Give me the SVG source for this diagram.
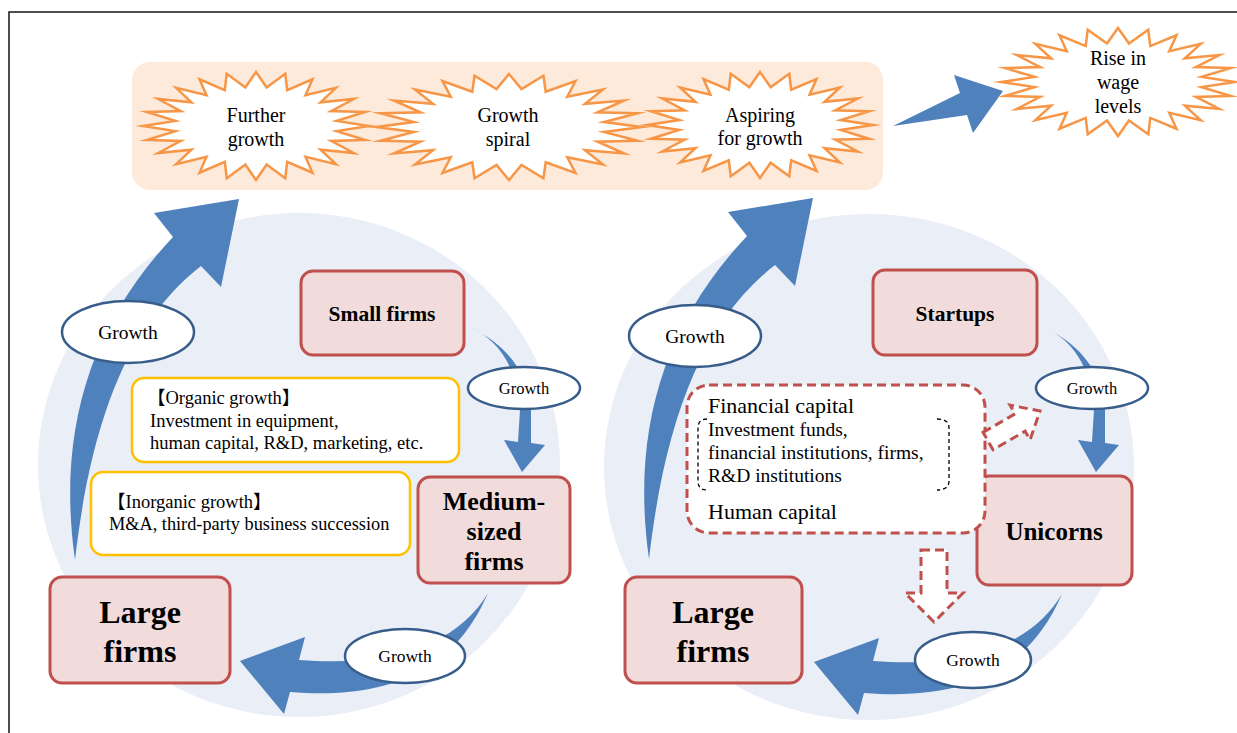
<svg xmlns="http://www.w3.org/2000/svg" xmlns:xlink="http://www.w3.org/1999/xlink" width="1237" height="733" viewBox="0 0 1237 733">
<style>
.serif{font-family:"Liberation Serif","Noto Sans CJK JP",serif;fill:#000}
.burst{fill:#fff;stroke:#f79646;stroke-width:2.5;vector-effect:non-scaling-stroke;stroke-miterlimit:12}
.firm{fill:#f2dcdb;stroke:#c0504d;stroke-width:3}
.lbl{fill:#fff;stroke:#385d8a;stroke-width:2.5}
.yel{fill:#fff;stroke:#ffc000;stroke-width:2.5}
.blue{fill:#4f81bd}
.dash{fill:#fff;stroke:#c0504d;stroke-width:3;stroke-dasharray:9 5}
.bold{font-weight:bold}
.mid{text-anchor:middle}
</style>
<defs>
<polygon id="star24" class="burst" points="0,-1 0.094,-0.714 0.259,-0.966 0.276,-0.665 0.5,-0.866 0.438,-0.571 0.707,-0.707 0.571,-0.438 0.866,-0.5 0.665,-0.276 0.966,-0.259 0.714,-0.094 1,0 0.714,0.094 0.966,0.259 0.665,0.276 0.866,0.5 0.571,0.438 0.707,0.707 0.438,0.571 0.5,0.866 0.276,0.665 0.259,0.966 0.094,0.714 0,1 -0.094,0.714 -0.259,0.966 -0.276,0.665 -0.5,0.866 -0.438,0.571 -0.707,0.707 -0.571,0.438 -0.866,0.5 -0.665,0.276 -0.966,0.259 -0.714,0.094 -1,0 -0.714,-0.094 -0.966,-0.259 -0.665,-0.276 -0.866,-0.5 -0.571,-0.438 -0.707,-0.707 -0.438,-0.571 -0.5,-0.866 -0.276,-0.665 -0.259,-0.966 -0.094,-0.714"/>
<path id="bigArc" d="M75,560 C58,440 85,330 173,237 L154,213 L239,199 L221,287 L201,266 C125,325 90,430 75,560 Z"/>
<path id="smallArc" d="M472,328 C497,340 517,365 520,410 L518,442 L504,440 L522,472 L545,445 L531,443 L531,410 C528,370 505,345 472,328 Z"/>
<path id="bottomArc" d="M488,593 C460,640 400,668 299,660 L305,637 L240,661 L284,714 L290,692 C390,700 455,670 488,593 Z"/>
</defs>
<rect width="1237" height="733" fill="#fff"/>
<rect x="9" y="12" width="1240" height="740" fill="none" stroke="#222" stroke-width="1.6"/>

<g id="backgrounds">
<ellipse cx="299" cy="465" rx="261" ry="252" fill="#e9eef7"/>
<ellipse cx="869" cy="467" rx="265" ry="253" fill="#e9eef7"/>
<rect x="132" y="62" width="751" height="128" rx="18" fill="#fdeadb"/>
</g>

<g id="connectors">
<polygon class="blue" points="893,126 960,93 954,75 1003,91 973,133 967,115"/>
<use xlink:href="#bigArc" class="blue"/>
<use xlink:href="#bigArc" class="blue" transform="translate(574,-1)"/>
<use xlink:href="#smallArc" class="blue"/>
<use xlink:href="#smallArc" class="blue" transform="translate(574,0)"/>
<use xlink:href="#bottomArc" class="blue"/>
<use xlink:href="#bottomArc" class="blue" transform="translate(574,1)"/>
</g>

<g id="further-growth">
<use xlink:href="#star24" transform="translate(256,126) scale(113,54)"/>
<text class="serif mid" x="256" y="122" font-size="20">Further</text>
<text class="serif mid" x="256" y="146" font-size="20">growth</text>
</g>
<g id="growth-spiral">
<use xlink:href="#star24" transform="translate(509,127) scale(133,53)"/>
<text class="serif mid" x="508" y="122" font-size="20">Growth</text>
<text class="serif mid" x="508" y="146" font-size="20">spiral</text>
</g>
<g id="aspiring">
<use xlink:href="#star24" transform="translate(760,125) scale(113,53)"/>
<text class="serif mid" x="760" y="122" font-size="20">Aspiring</text>
<text class="serif mid" x="760" y="145" font-size="20">for growth</text>
</g>
<g id="wage">
<use xlink:href="#star24" transform="translate(1118,82) scale(117,54)"/>
<text class="serif mid" x="1118" y="65" font-size="20">Rise in</text>
<text class="serif mid" x="1118" y="89" font-size="20">wage</text>
<text class="serif mid" x="1118" y="113" font-size="20">levels</text>
</g>

<g id="organic">
<rect class="yel" x="132" y="378" width="327" height="84" rx="12"/>
<text class="serif" x="147" y="404" font-size="18.5">【Organic growth】</text>
<text class="serif" x="150" y="427" font-size="18.5">Investment in equipment,</text>
<text class="serif" x="150" y="449" font-size="18.5">human capital, R&amp;D, marketing, etc.</text>
</g>
<g id="inorganic">
<rect class="yel" x="91" y="472" width="319" height="83" rx="12"/>
<text class="serif" x="107" y="508" font-size="18.5">【Inorganic growth】</text>
<text class="serif" x="109" y="530" font-size="18.3">M&amp;A, third-party business succession</text>
</g>

<g id="small-firms">
<rect class="firm" x="301" y="271" width="163" height="84" rx="12"/>
<text class="serif bold mid" x="382" y="321" font-size="21.5">Small firms</text>
</g>
<g id="medium-firms">
<rect class="firm" x="418" y="477" width="152" height="106" rx="12"/>
<text class="serif bold mid" x="494" y="510" font-size="26">Medium-</text>
<text class="serif bold mid" x="494" y="540" font-size="26">sized</text>
<text class="serif bold mid" x="494" y="570" font-size="26">firms</text>
</g>
<g id="large-firms-left">
<rect class="firm" x="50" y="577" width="180" height="106" rx="12"/>
<text class="serif bold mid" x="140" y="623" font-size="32">Large</text>
<text class="serif bold mid" x="140" y="662" font-size="32">firms</text>
</g>

<g id="startups">
<rect class="firm" x="873" y="270" width="164" height="85" rx="12"/>
<text class="serif bold mid" x="955" y="321" font-size="21.5">Startups</text>
</g>
<g id="unicorns">
<rect class="firm" x="977" y="476" width="155" height="109" rx="12"/>
<text class="serif bold mid" x="1054" y="540" font-size="25">Unicorns</text>
</g>
<g id="large-firms-right">
<rect class="firm" x="625" y="577" width="177" height="106" rx="12"/>
<text class="serif bold mid" x="713" y="623" font-size="32">Large</text>
<text class="serif bold mid" x="713" y="662" font-size="32">firms</text>
</g>

<g id="capital">
<rect class="dash" x="687" y="385" width="298" height="148" rx="22"/>
<path d="M707,419 Q698,419 698,428 L698,481 Q698,490 707,490 M937,419 Q949,419 949,428 L949,481 Q949,490 937,490" fill="none" stroke="#000" stroke-width="1.3" stroke-dasharray="4 3"/>
<text class="serif" x="708" y="413" font-size="22">Financial capital</text>
<text class="serif" x="708" y="436" font-size="19.5">Investment funds,</text>
<text class="serif" x="708" y="459" font-size="19.5">financial institutions, firms,</text>
<text class="serif" x="708" y="482" font-size="19.5">R&amp;D institutions</text>
<text class="serif" x="708" y="519" font-size="22">Human capital</text>
</g>
<g id="dashed-arrows">
<polygon class="dash" transform="translate(988,441) rotate(-30)" points="0,-10 37,-10 37,-20 60,0 37,20 37,10 0,10"/>
<polygon class="dash" points="921,550 947,550 947,593 963,593 934,622 905,593 921,593"/>
</g>

<g id="growth-labels">
<g id="g1"><ellipse class="lbl" cx="128" cy="332" rx="66" ry="31"/><text class="serif mid" x="128" y="339" font-size="19.5">Growth</text></g>
<g id="g2"><ellipse class="lbl" cx="524" cy="388" rx="56" ry="21"/><text class="serif mid" x="524" y="394" font-size="16.5">Growth</text></g>
<g id="g3"><ellipse class="lbl" cx="405" cy="656" rx="60" ry="27"/><text class="serif mid" x="405" y="662" font-size="17.5">Growth</text></g>
<g id="g4"><ellipse class="lbl" cx="695" cy="336" rx="66" ry="31"/><text class="serif mid" x="695" y="343" font-size="19.5">Growth</text></g>
<g id="g5"><ellipse class="lbl" cx="1092" cy="388" rx="56" ry="21"/><text class="serif mid" x="1092" y="394" font-size="16.5">Growth</text></g>
<g id="g6"><ellipse class="lbl" cx="973" cy="660" rx="58" ry="28"/><text class="serif mid" x="973" y="666" font-size="17.5">Growth</text></g>
</g>
</svg>
